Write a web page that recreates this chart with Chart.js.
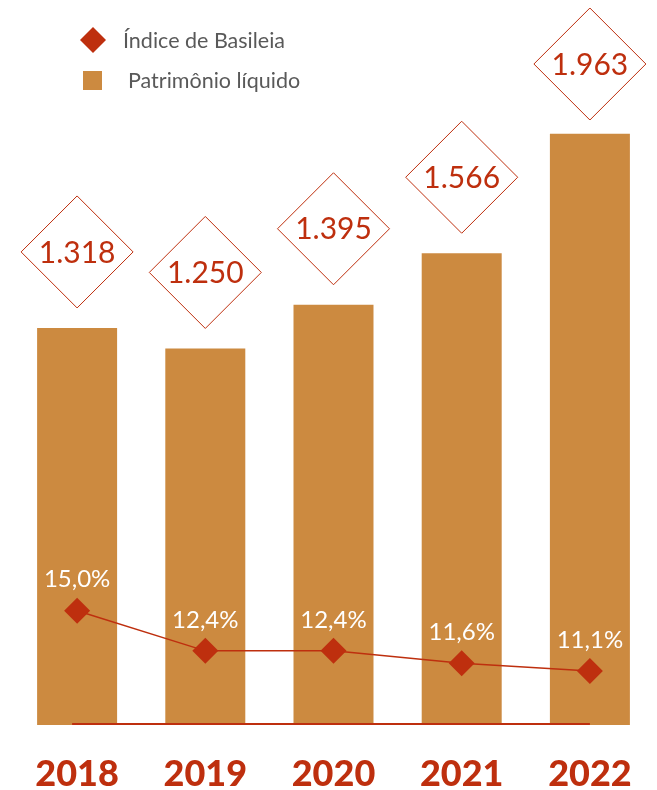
<!DOCTYPE html>
<html lang="pt-BR">
<head>
<meta charset="utf-8">
<title>Patrimônio líquido e Índice de Basileia</title>
<script src="https://cdn.jsdelivr.net/npm/chart.js@4/dist/chart.umd.min.js"></script>
<style>
  html, body { margin: 0; padding: 0; background: #ffffff; }
  #wrap { width: 657px; height: 790px; position: relative; }
</style>
</head>
<body>
<div id="wrap"><canvas id="chart" width="657" height="790"></canvas></div>
<script>
// Anos, patrimônio líquido (R$ milhões) e Índice de Basileia (%)
const anos = ['2018', '2019', '2020', '2021', '2022'];
const patrimonioLiquido = [1318, 1250, 1395, 1566, 1963];
const indiceBasileia = [15.0, 12.4, 12.4, 11.6, 11.1];

const COR_BARRA = '#CC8A40';
const COR_VERMELHO = '#BE2F0E';
const COR_LEGENDA = '#595959';
const FONTE = 'Lato, "Open Sans", "DejaVu Sans", sans-serif';

function formatarMilhar(v) {
  return String(v).replace(/\B(?=(\d{3})+(?!\d))/g, '.');
}
function formatarPct(v) {
  return v.toFixed(1).replace('.', ',') + '%';
}

// Losangos com o valor acima de cada barra, rótulos em % e linha de base
const rotulosPlugin = {
  id: 'rotulos',
  afterDatasetsDraw(chart) {
    const ctx = chart.ctx;
    const barMeta = chart.getDatasetMeta(1);
    const lineMeta = chart.getDatasetMeta(0);
    const xScale = chart.scales.x;
    const yScale = chart.scales.y;

    // linha de base vermelha
    ctx.save();
    ctx.strokeStyle = COR_VERMELHO;
    ctx.lineWidth = 2;
    const y0 = yScale.getPixelForValue(0) - 1;
    ctx.beginPath();
    ctx.moveTo(xScale.getPixelForValue(0) - 5, y0);
    ctx.lineTo(xScale.getPixelForValue(anos.length - 1), y0);
    ctx.stroke();
    ctx.restore();

    // losangos com valores (mantidos dentro da área visível)
    barMeta.data.forEach((bar, i) => {
      const h = 56;
      const cx = bar.x;
      const cy = Math.max(bar.y - 76, h + 8);
      ctx.save();
      ctx.strokeStyle = COR_VERMELHO;
      ctx.lineWidth = 1;
      ctx.beginPath();
      ctx.moveTo(cx, cy - h);
      ctx.lineTo(cx + h, cy);
      ctx.lineTo(cx, cy + h);
      ctx.lineTo(cx - h, cy);
      ctx.closePath();
      ctx.stroke();
      ctx.fillStyle = COR_VERMELHO;
      ctx.font = '30px ' + FONTE;
      ctx.textAlign = 'center';
      ctx.textBaseline = 'middle';
      ctx.fillText(formatarMilhar(patrimonioLiquido[i]), cx, cy + 1);
      ctx.restore();
    });

    // rótulos percentuais
    lineMeta.data.forEach((pt, i) => {
      ctx.save();
      ctx.fillStyle = '#ffffff';
      ctx.font = '24px ' + FONTE;
      ctx.textAlign = 'center';
      ctx.textBaseline = 'middle';
      ctx.fillText(formatarPct(indiceBasileia[i]), pt.x, pt.y - 31);
      ctx.restore();
    });
  }
};

// Legenda no canto superior esquerdo
const legendaPlugin = {
  id: 'legendaCustom',
  afterDraw(chart) {
    const ctx = chart.ctx;
    const ds = chart.data.datasets;
    ctx.save();
    // Índice de Basileia
    ctx.fillStyle = COR_VERMELHO;
    ctx.beginPath();
    ctx.moveTo(93, 27);
    ctx.lineTo(106, 40);
    ctx.lineTo(93, 53);
    ctx.lineTo(80, 40);
    ctx.closePath();
    ctx.fill();
    // Patrimônio líquido
    ctx.fillStyle = COR_BARRA;
    ctx.fillRect(83, 71, 19, 19);
    ctx.fillStyle = COR_LEGENDA;
    ctx.font = '21.5px ' + FONTE;
    ctx.textAlign = 'left';
    ctx.textBaseline = 'middle';
    ctx.fillText(ds[0].label, 123, 41);
    ctx.fillText(ds[1].label, 128, 81);
    ctx.restore();
  }
};

new Chart(document.getElementById('chart'), {
  type: 'bar',
  data: {
    labels: anos,
    datasets: [
      {
        type: 'line',
        label: 'Índice de Basileia',
        data: indiceBasileia,
        yAxisID: 'y2',
        borderColor: COR_VERMELHO,
        backgroundColor: COR_VERMELHO,
        borderWidth: 1.5,
        pointStyle: 'rectRot',
        pointRadius: 13,
        pointHoverRadius: 13,
        pointBorderWidth: 0,
        tension: 0,
        order: 0
      },
      {
        type: 'bar',
        label: 'Patrimônio líquido',
        data: patrimonioLiquido,
        yAxisID: 'y',
        backgroundColor: COR_BARRA,
        borderWidth: 0,
        categoryPercentage: 1,
        barPercentage: 0.624,
        order: 1
      }
    ]
  },
  options: {
    responsive: false,
    animation: false,
    devicePixelRatio: 1,
    layout: { autoPadding: false, padding: { left: 13, right: 3, top: 2, bottom: 0 } },
    plugins: {
      legend: { display: false },
      tooltip: { enabled: false }
    },
    scales: {
      x: {
        grid: { display: false, drawTicks: false },
        border: { display: false },
        ticks: {
          color: COR_VERMELHO,
          font: { family: FONTE, size: 36, weight: '900', lineHeight: 2.6 },
          padding: 3
        },
        afterFit(axis) { axis.height = 65; }
      },
      y: {
        display: false,
        min: 0,
        max: 2400
      },
      y2: {
        display: false,
        min: 7.6,
        max: 54.4
      }
    }
  },
  plugins: [rotulosPlugin, legendaPlugin]
});
</script>
</body>
</html>
